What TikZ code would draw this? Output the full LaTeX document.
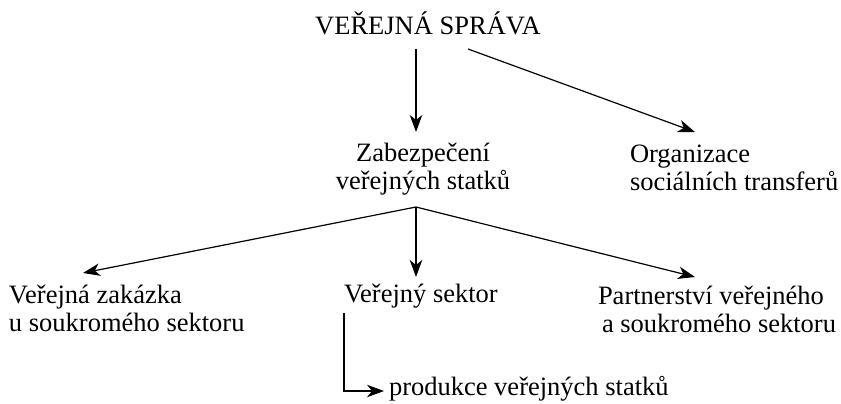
\documentclass[tikz,border=0pt]{standalone}
\usepackage{fontspec}
\setmainfont{Liberation Serif}
\usetikzlibrary{arrows.meta}
\begin{document}
\begin{tikzpicture}[x=1pt,y=-1pt,
  lbl/.style={inner sep=0pt,outer sep=0pt,font=\fontsize{26.5}{28}\selectfont},
  arr/.style={line width=1.2pt,-{Stealth[length=17pt,width=12.5pt,inset=5pt]}}]
\useasboundingbox (0,0) rectangle (841,404);
\node[lbl,anchor=base] (title) at (428,35) {VEŘEJNÁ SPRÁVA};
\node[lbl,anchor=base,align=center] (zab) at (423,189) {Zabezpečení\\veřejných statků};
\node[lbl,anchor=base west,align=left] (org) at (630,190) {Organizace\\sociálních transferů};
\node[lbl,anchor=base west,align=left] (vz) at (9,331) {Veřejná zakázka\\u soukromého sektoru};
\node[lbl,anchor=base west] (vs) at (344,302) {Veřejný sektor};
\node[lbl,anchor=base west,align=left] (pvs) at (598,332) {Partnerství veřejného\\\hspace*{4pt}a soukromého sektoru};
\node[lbl,anchor=base west] (prod) at (389,395) {produkce veřejných statků};
\draw[arr] ([shift={(-12,14)}]title.base) -- ([shift={(-7,-57)}]zab.base);
\draw[arr] ([shift={(40,14)}]title.base) -- ([shift={(65,-58)}]org.base west);
\coordinate (split) at ([shift={(-7,18)}]zab.base);
\draw[arr] (split) -- ([shift={(74,-58)}]vz.base west);
\draw[arr] (split) -- ([shift={(72,-25)}]vs.base west);
\draw[arr] (split) -- ([shift={(97,-55)}]pvs.base west);
\draw[arr] ([shift={(0,11)}]vs.base west) |- ([shift={(-5,-4)}]prod.base west);
\end{tikzpicture}
\end{document}
